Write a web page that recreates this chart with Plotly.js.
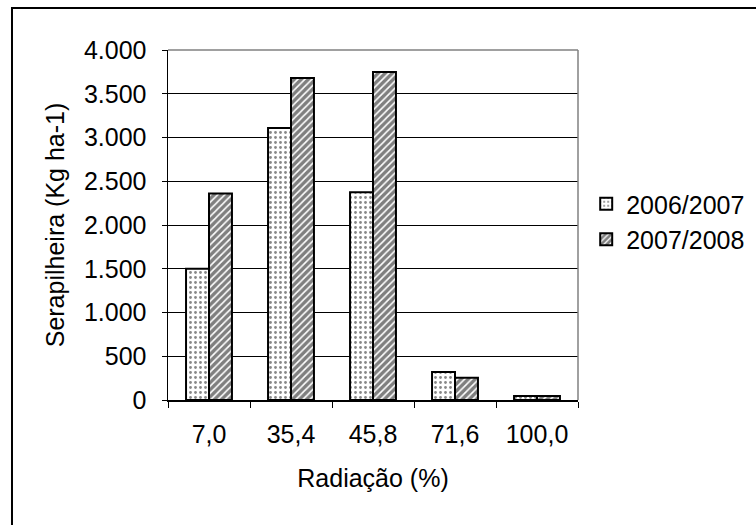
<!DOCTYPE html>
<html>
<head>
<meta charset="utf-8">
<script src="https://cdn.plot.ly/plotly-3.0.1.min.js"></script>
<style>
  html, body { margin: 0; padding: 0; background: #fff; }
  #chart { width: 756px; height: 525px; }
</style>
</head>
<body>
<div id="chart"></div>
<script>
// Radiação (%) classes on the x axis
const categories = ['7,0', '35,4', '45,8', '71,6', '100,0'];

// Serapilheira (Kg ha-1) per season
const seriesNames = ['2006/2007', '2007/2008'];
const values2006 = [1500, 3110, 2375, 320, 45];
const values2007 = [2360, 3680, 3750, 255, 45];

// Y axis tick values (labels use '.' as thousands separator)
const yTicks = [0, 500, 1000, 1500, 2000, 2500, 3000, 3500, 4000];

const FONT = "'Liberation Sans', Arial, sans-serif";
const FS = 25;

const traces = [
  {
    type: 'bar',
    name: seriesNames[0],
    legendgroup: 'a',
    x: categories,
    y: values2006,
    marker: {
      color: '#ffffff',
      line: { color: '#000000', width: 2 },
      pattern: { shape: '.', size: 5, solidity: 0.24, fgcolor: '#111111', bgcolor: '#ffffff', fillmode: 'overlay' }
    },
    hoverinfo: 'skip'
  },
  {
    type: 'bar',
    name: seriesNames[1],
    legendgroup: 'b',
    x: categories,
    y: values2007,
    marker: {
      color: '#ffffff',
      line: { color: '#000000', width: 2 },
      pattern: { shape: '/', size: 5, solidity: 0.68, fgcolor: '#000000', bgcolor: '#ffffff', fillmode: 'overlay' }
    },
    hoverinfo: 'skip'
  }
];

const layout = {
  width: 756,
  height: 525,
  margin: { l: 168, r: 178, t: 50, b: 125, autoexpand: false },
  paper_bgcolor: '#ffffff',
  plot_bgcolor: '#ffffff',
  separators: ',.',
  font: { family: FONT, size: FS, color: '#000000' },
  barmode: 'group',
  bargap: 0.44,
  bargroupgap: 0,
  showlegend: true,
  legend: {
    x: 1.02, xanchor: 'left',
    y: 0.51, yanchor: 'middle',
    traceorder: 'grouped',
    tracegroupgap: 0,
    font: { family: FONT, size: FS, color: '#000000' },
    bgcolor: 'rgba(0,0,0,0)'
  },
  xaxis: {
    type: 'category',
    showline: true,
    linecolor: '#000000',
    linewidth: 1.5,
    ticks: 'outside',
    tickson: 'boundaries',
    ticklen: 6,
    tickcolor: '#000000',
    tickwidth: 1,
    ticklabelstandoff: 11,
    showgrid: false,
    automargin: false,
    tickfont: { family: FONT, size: FS },
    title: { text: 'Radiação (%)', font: { family: FONT, size: FS }, standoff: 23 }
  },
  yaxis: {
    range: [0, 4000],
    tickvals: yTicks,
    tickformat: ',.0f',
    showline: true,
    linecolor: '#000000',
    linewidth: 1.5,
    ticks: 'outside',
    ticklen: 5,
    tickcolor: '#000000',
    tickwidth: 1,
    ticklabelstandoff: 10,
    showgrid: true,
    gridcolor: '#000000',
    gridwidth: 1,
    zeroline: false,
    automargin: false,
    tickfont: { family: FONT, size: FS },
    title: { text: 'Serapilheira (Kg ha-1)', font: { family: FONT, size: FS }, standoff: 12 }
  },
  shapes: [
    // plot area frame: top and right edges in gray
    { type: 'line', xref: 'paper', yref: 'paper', x0: 0, x1: 1, y0: 1, y1: 1,
      line: { color: '#808080', width: 1.5 }, layer: 'above' },
    { type: 'line', xref: 'paper', yref: 'paper', x0: 1, x1: 1, y0: 0, y1: 1,
      line: { color: '#808080', width: 1.5 }, layer: 'above' },
    // outer chart frame
    { type: 'rect', xref: 'paper', yref: 'paper', x0: -0.3805, x1: 2, y0: -1, y1: 1.12,
      line: { color: '#000000', width: 2 }, layer: 'below' }
  ]
};

Plotly.newPlot('chart', traces, layout, { staticPlot: true, displayModeBar: false });
</script>
</body>
</html>
